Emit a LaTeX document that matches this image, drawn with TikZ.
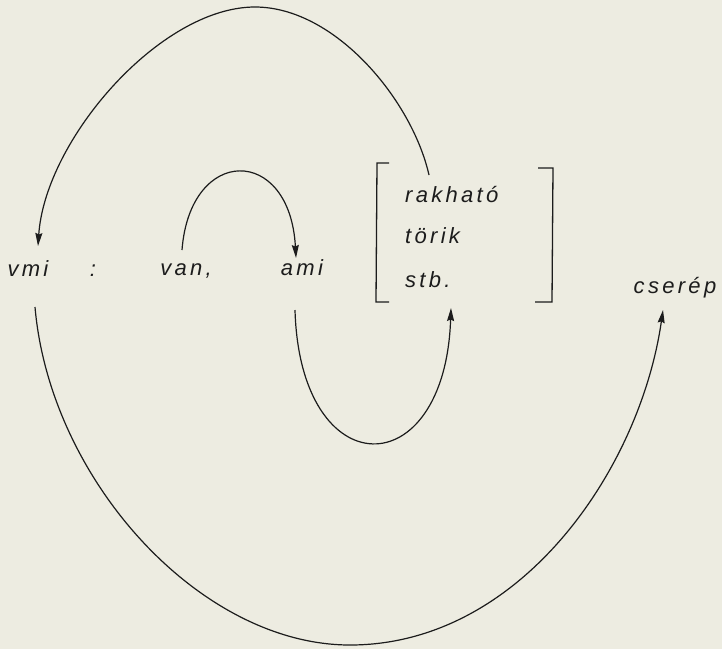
\documentclass[tikz,border=0pt]{standalone}
\usepackage{fontspec}
\setmainfont{Liberation Sans}
\newfontfamily\lettering[LetterSpace=15]{Liberation Sans}
\usetikzlibrary{arrows.meta}
\definecolor{paper}{RGB}{237,236,225}
\definecolor{ink}{RGB}{28,28,28}
\tikzset{
  word/.style={inner sep=0pt, anchor=base, text=ink, font=\lettering\itshape\fontsize{22}{26}\selectfont},
  wordw/.style={word, anchor=base west},
  link/.style={draw=ink, line width=1.2pt},
  arr/.style={link, -{Stealth[length=13pt,width=7pt,inset=1.5pt]}},
  brk/.style={draw=ink, line width=1.3pt}
}
\begin{document}
\begin{tikzpicture}[x=1pt,y=-1pt]
\fill[paper] (0,0) rectangle (722,649);
\useasboundingbox (0,0) rectangle (722,649);
% words
\node[word] (vmi) at (28,276) {vmi};
\node[word] (colon) at (93,276) {:};
\node[word] (van) at (186,275) {van,};
\node[word] (ami) at (302,275) {ami};
\node[wordw] (rak) at (405,202) {rakható};
\node[wordw] (tor) at (405,243) {törik};
\node[wordw] (stb) at (405,287) {stb.};
\node[word] (cser) at (675,293) {cserép};
% brackets
\draw[brk] (389,163) -- (377,163) -- (376,302) -- (389,302);
\draw[brk] (538,168) -- (553,168) -- (552,302) -- (535,302);
% connector end points
\coordinate (a1) at (429,175);
\coordinate (top) at (255,7);
\coordinate (a2) at (38,246);
\coordinate (b1) at (182,250);
\coordinate (b2) at (296,258);
\coordinate (c1) at (295,310);
\coordinate (c2) at (451,308);
\coordinate (d1) at (35,307);
\coordinate (bot) at (350,645);
\coordinate (d2) at (663,310);
% big upper arc
\draw[arr] (a1) .. controls (412,100) and (335,7) .. (top)
  .. controls (160,7) and (45,140) .. (a2);
% small upper arc
\draw[arr] (b1) .. controls (190,145) and (290,145) .. (b2);
% inner lower arc
\draw[arr] (c1) .. controls (300,487) and (445,487) .. (c2);
% outer lower arc
\draw[arr] (d1) .. controls (50,480) and (200,645) .. (bot)
  .. controls (520,645) and (640,470) .. (d2);
\end{tikzpicture}
\end{document}
